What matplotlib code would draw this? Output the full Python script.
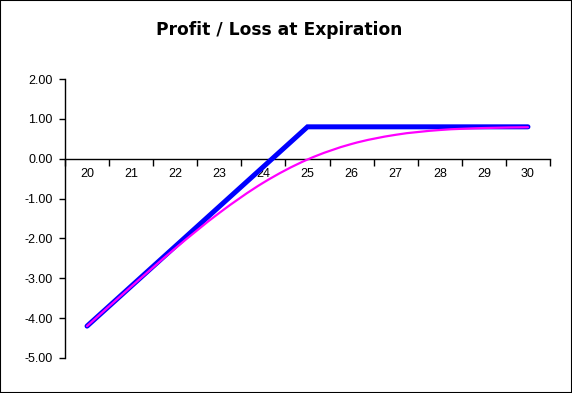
import numpy as np
import matplotlib
matplotlib.use("Agg")
import matplotlib.pyplot as plt
from matplotlib.path import Path
from matplotlib.patches import PathPatch, Rectangle

# underlying price (categories)
prices = [20, 21, 22, 23, 24, 25, 26, 27, 28, 29, 30]
# P/L at expiration (blue) and before expiration (magenta)
pl_expiry = [-4.20, -3.20, -2.20, -1.20, -0.20, 0.80, 0.80, 0.80, 0.80, 0.80, 0.80]
pl_now = [-4.20, -3.21, -2.25, -1.36, -0.60, -0.02, 0.37, 0.60, 0.72, 0.77, 0.79]
yticks = [2, 1, 0, -1, -2, -3, -4, -5]


def smooth_path(xs, ys):
    # excel-style smoothed line: bezier through the points
    xs = np.asarray(xs, float)
    ys = np.asarray(ys, float)
    n = len(xs)
    verts = [(xs[0], ys[0])]
    codes = [Path.MOVETO]
    for i in range(n - 1):
        p0 = np.array([xs[max(i - 1, 0)], ys[max(i - 1, 0)]])
        p1 = np.array([xs[i], ys[i]])
        p2 = np.array([xs[i + 1], ys[i + 1]])
        p3 = np.array([xs[min(i + 2, n - 1)], ys[min(i + 2, n - 1)]])
        c1 = p1 + (p2 - p0) / 6.0
        c2 = p2 - (p3 - p1) / 6.0
        verts += [tuple(c1), tuple(c2), tuple(p2)]
        codes += [Path.CURVE4] * 3
    return Path(verts, codes)


fig = plt.figure(figsize=(5.72, 3.93), dpi=100)
ax = fig.add_axes([65 / 572, 35 / 393, 485 / 572, 279 / 393])

ax.plot(prices, pl_expiry, color="#0000FF", lw=3.6, solid_capstyle="round",
        solid_joinstyle="miter", zorder=3)
ax.add_patch(PathPatch(smooth_path(prices, pl_now), facecolor="none",
                       edgecolor="#FF00FF", lw=1.6, capstyle="round", zorder=4))

ax.set_xlim(19.5, 30.5)
ax.set_ylim(-5, 2)

ax.spines["top"].set_visible(False)
ax.spines["right"].set_visible(False)
ax.spines["bottom"].set_position(("data", 0))
ax.spines["left"].set_linewidth(1)
ax.spines["bottom"].set_linewidth(1)

# category boundaries as tick marks, labels in the middle
ax.set_xticks(np.arange(19.5, 31, 1))
ax.set_xticklabels([])
ax.set_xticks(prices, minor=True)
ax.set_xticklabels([str(p) for p in prices], minor=True, fontsize=9,
                   family="Liberation Sans")
ax.tick_params(axis="x", which="major", direction="out", length=5, width=1)
ax.tick_params(axis="x", which="minor", length=0, pad=7)

ax.set_yticks(yticks)
ax.set_yticklabels(["%.2f" % v for v in yticks], fontsize=9,
                   family="Liberation Sans")
ax.tick_params(axis="y", direction="out", length=4, width=1, pad=5)

fig.text(0.4886, 0.924, "Profit / Loss at Expiration", ha="center", va="center",
         fontsize=12.3, fontweight="bold", family="DejaVu Sans")

fig.patches.append(Rectangle((0, 0), 1, 1, transform=fig.transFigure,
                             fill=False, edgecolor="black", lw=1.5))

fig.savefig("out.png", dpi=100)
